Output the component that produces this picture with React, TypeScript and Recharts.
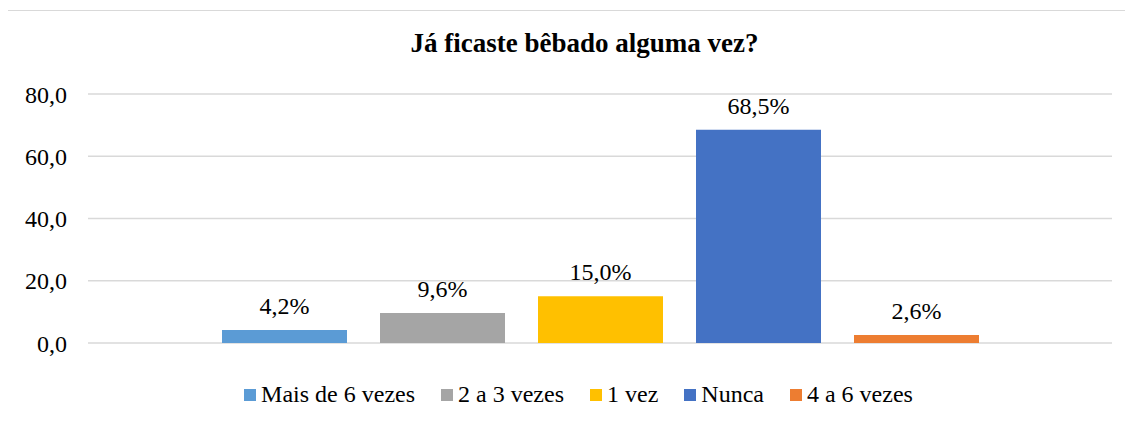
import React from "react";
import {BarChart, Bar, CartesianGrid, XAxis, YAxis, Legend, LabelList} from "recharts";

const categories = ["Mais de 6 vezes", "2 a 3 vezes", "1 vez", "Nunca", "4 a 6 vezes"];
const values = [4.2, 9.6, 15.0, 68.5, 2.6];
const yTicks = [0, 20, 40, 60, 80];
const title = "Já ficaste bêbado alguma vez?";

const colors = ["#5B9BD5", "#A5A5A5", "#FFC000", "#4472C4", "#ED7D31"];

const keys = categories.map((_, i) => `s${i}`);
const row: Record<string, string | number> = {name: ""};
keys.forEach((k, i) => {
  row[k] = values[i];
});
const data = [row];

const FONT = "'Liberation Serif', Tinos, 'Times New Roman', 'Nimbus Roman', 'DejaVu Serif', serif";

const fmtTick = (v: number) => v.toFixed(1).replace(".", ",");
const fmtLabel = (v: any) => `${Number(v).toFixed(1).replace(".", ",")}%`;

function LegendContent() {
  return (
    <div
      style={{
        height: 66,
        paddingTop: 36,
        boxSizing: "border-box",
        textAlign: "center",
        paddingLeft: 37,
        fontFamily: FONT,
        fontSize: 24,
        lineHeight: "30px",
        color: "#000",
        whiteSpace: "nowrap"
      }}
    >
      {categories.map((c, i) => (
        <span key={c} style={{marginRight: i < categories.length - 1 ? 26 : 0}}>
          <span
            style={{
              display: "inline-block",
              width: 12,
              height: 12,
              background: colors[i],
              marginRight: 5,
              verticalAlign: "baseline",
              position: "relative",
              top: -1.5
            }}
          />
          {c}
        </span>
      ))}
    </div>
  );
}

export default function App() {
  return (
    <div style={{position: "relative", width: 1125, height: 417, overflow: "hidden", fontFamily: FONT}}>
      <div
        style={{
          position: "absolute",
          left: -1,
          top: 2,
          width: 1155,
          height: 420,
          border: "1px solid #d9d9d9",
          boxSizing: "border-box",
          background: "#fff"
        }}
      >
        <div
          style={{
            position: "absolute",
            top: 19,
            left: 0,
            width: "100%",
            textAlign: "center",
            fontFamily: FONT,
            fontWeight: "bold",
            fontSize: 27,
            lineHeight: "27px",
            color: "#000"
          }}
        >
          {title}
        </div>
        <BarChart
          width={1153}
          height={414}
          data={data}
          margin={{top: 83, right: 49, bottom: 16, left: 0}}
          barGap={33}
          style={{fontFamily: FONT}}
        >
          <CartesianGrid vertical={false} stroke="#d9d9d9" strokeWidth={1.5} />
          <XAxis dataKey="name" hide />
          <YAxis
            width={80}
            domain={[0, 80]}
            ticks={yTicks}
            axisLine={false}
            tickLine={false}
            tickSize={0}
            tickMargin={21}
            tickFormatter={fmtTick}
            tick={{fontSize: 24, fill: "#000", fontFamily: FONT}}
          />
          <Legend verticalAlign="bottom" content={<LegendContent />} />
          {keys.map((k, i) => (
            <Bar
              key={k}
              dataKey={k}
              name={categories[i]}
              fill={colors[i]}
              barSize={125}
              isAnimationActive={false}
            >
              <LabelList
                dataKey={k}
                position="top"
                offset={16}
                formatter={fmtLabel}
                fontFamily={FONT}
                fontSize={24}
                fill="#000"
              />
            </Bar>
          ))}
        </BarChart>
      </div>
    </div>
  );
}
